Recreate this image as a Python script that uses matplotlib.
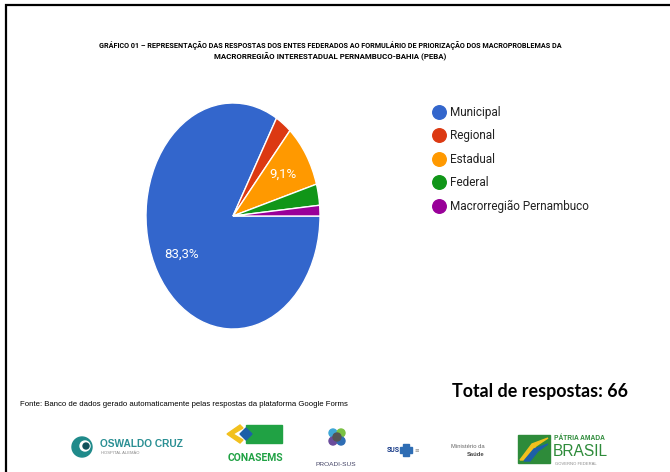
import matplotlib
matplotlib.use("Agg")
import matplotlib.pyplot as plt
from matplotlib.patches import Rectangle, Polygon, Circle

# dados
labels = ['Municipal', 'Regional', 'Estadual', 'Federal', 'Macrorregião Pernambuco']
counts = [55, 2, 6, 2, 1]
colors = ['#3366CC', '#DC3912', '#FF9900', '#109618', '#990099']
total = sum(counts)

title_lines = ['GRÁFICO 01 – REPRESENTAÇÃO DAS RESPOSTAS DOS ENTES FEDERADOS AO FORMULÁRIO DE PRIORIZAÇÃO DOS MACROPROBLEMAS DA',
               'MACRORREGIÃO INTERESTADUAL PERNAMBUCO-BAHIA (PEBA)']
fonte = 'Fonte: Banco de dados gerado automaticamente pelas respostas da plataforma Google Forms'

W, H = 670, 472
arial = ['Liberation Sans', 'DejaVu Sans']
roboto = ['Roboto', 'DejaVu Sans']
lato = ['Lato', 'DejaVu Sans']

fig = plt.figure(figsize=(W / 100, H / 100), dpi=100)
renderer = fig.canvas.get_renderer()


def fit(t, width_px):
    # ajusta o tamanho da fonte para a largura medida na imagem
    w = t.get_window_extent(renderer).width
    t.set_fontsize(t.get_fontsize() * width_px / w)


# camada de fundo em pixels
bg = fig.add_axes([0, 0, 1, 1])
bg.set_xlim(0, W)
bg.set_ylim(H, 0)
bg.axis('off')

# moldura
bg.plot([6, 6, W], [H, 5, 5], color='black', lw=1.6, solid_joinstyle='miter')

for line, y, wpx in zip(title_lines, [46, 57], [462, 233]):
    t = bg.text(330, y, line, ha='center', va='center', fontsize=5.6,
                fontweight='bold', family=roboto)
    fit(t, wpx)

# pizza (elipse)
cx, cy, rx, ry = 233, 216, 87, 113
ax = fig.add_axes([(cx - rx) / W, 1 - (cy + ry) / H, 2 * rx / W, 2 * ry / H])


def pct(p):
    return ('%.1f%%' % p).replace('.', ',') if p > 5 else ''


wedges, texts, autotexts = ax.pie(counts, colors=colors, startangle=0, counterclock=False,
                                  autopct=pct, pctdistance=0.68,
                                  wedgeprops=dict(edgecolor='white', linewidth=1),
                                  textprops=dict(color='white', fontsize=9.5, family=roboto))
ax.set_aspect('auto')
ax.set_xlim(-1, 1)
ax.set_ylim(-1, 1)

# legenda
leg_texts = []
for i, (name, c) in enumerate(zip(labels, colors)):
    y = 112 + i * 23.4
    bg.scatter([439], [y], s=95, color=c, zorder=3)
    leg_texts.append(bg.text(450, y + 0.5, name, va='center', ha='left', fontsize=10,
                             color='#222222', family=roboto))
fit(leg_texts[-1], 140)
for t in leg_texts[:-1]:
    t.set_fontsize(leg_texts[-1].get_fontsize())

t = bg.text(20, 404, fonte, fontsize=6.6, va='center', ha='left', family=arial)
fit(t, 327)
t = bg.text(540, 392, 'Total de respostas: %d' % total, fontsize=14.5, fontweight='bold',
            va='center', ha='center', family=lato)
fit(t, 175)

# logotipos (aproximados)
bg.add_patch(Circle((82, 447), 10, color='#1f8a8a'))
bg.add_patch(Circle((85, 446), 5, color='white'))
bg.add_patch(Circle((86, 446), 3, color='#0f4f5a'))
t = bg.text(100, 444, 'OSWALDO CRUZ', fontsize=7, fontweight='bold', color='#2a8f93',
            va='center', ha='left', family=arial)
fit(t, 83)
bg.text(101, 453, 'HOSPITAL ALEMÃO', fontsize=3, color='#888888', va='center', ha='left', family=arial)

bg.add_patch(Polygon([[240, 425], [227, 434], [240, 443], [243, 440], [233, 434], [243, 428]], color='#f2c01d'))
bg.add_patch(Rectangle((246, 425), 36, 18, color='#20a244'))
bg.add_patch(Polygon([[240, 434], [246, 428], [252, 434], [246, 440]], color='#1d5fa8'))
t = bg.text(255, 458, 'CONASEMS', fontsize=8, fontweight='bold', color='#20a244',
            va='center', ha='center', family=roboto)
fit(t, 56)

for dx, dy, c in [(-4, -5, '#3fa7d6'), (4, -5, '#7ac143'), (-4, 3, '#6a4c9c'), (4, 3, '#2e6db4'), (0, -1, '#555555')]:
    bg.add_patch(Circle((337 + dx, 438 + dy), 4, color=c))
t = bg.text(336, 465, 'PROADI-SUS', fontsize=5, color='#444466', va='center', ha='center', family=arial)
fit(t, 41)

bg.text(393, 450, 'SUS', fontsize=5, fontweight='bold', color='#1d3f8a', va='center', ha='center', family=roboto)
bg.add_patch(Rectangle((400, 447), 12, 6, color='#2e6db4'))
bg.add_patch(Rectangle((403, 444), 6, 12, color='#2e6db4'))
bg.text(414, 450, '≡', fontsize=4, color='#888888', va='center', ha='left')

bg.text(468, 446, 'Ministério da', fontsize=4.2, color='#666666', va='center', ha='center', family=arial)
bg.text(476, 455, 'Saúde', fontsize=4.2, fontweight='bold', color='#444444', va='center', ha='center', family=arial)

bg.add_patch(Rectangle((518, 435), 32, 28, color='#2e8b3a'))
bg.add_patch(Polygon([[520, 460], [532, 444], [548, 438], [536, 446], [526, 460]], color='#f2c01d'))
bg.add_patch(Polygon([[524, 461], [534, 449], [548, 444], [538, 451], [530, 461]], color='#1d5fa8'))
t = bg.text(554, 439, 'PÁTRIA AMADA', fontsize=5, fontweight='bold', color='#2e8b3a', va='center', ha='left', family=arial)
fit(t, 51)
t = bg.text(553, 452, 'BRASIL', fontsize=12, color='#2e8b3a', va='center', ha='left', family=arial)
fit(t, 55)
bg.text(555, 464, 'GOVERNO FEDERAL', fontsize=3, color='#888888', va='center', ha='left', family=arial)

fig.savefig('out.png', dpi=100)
